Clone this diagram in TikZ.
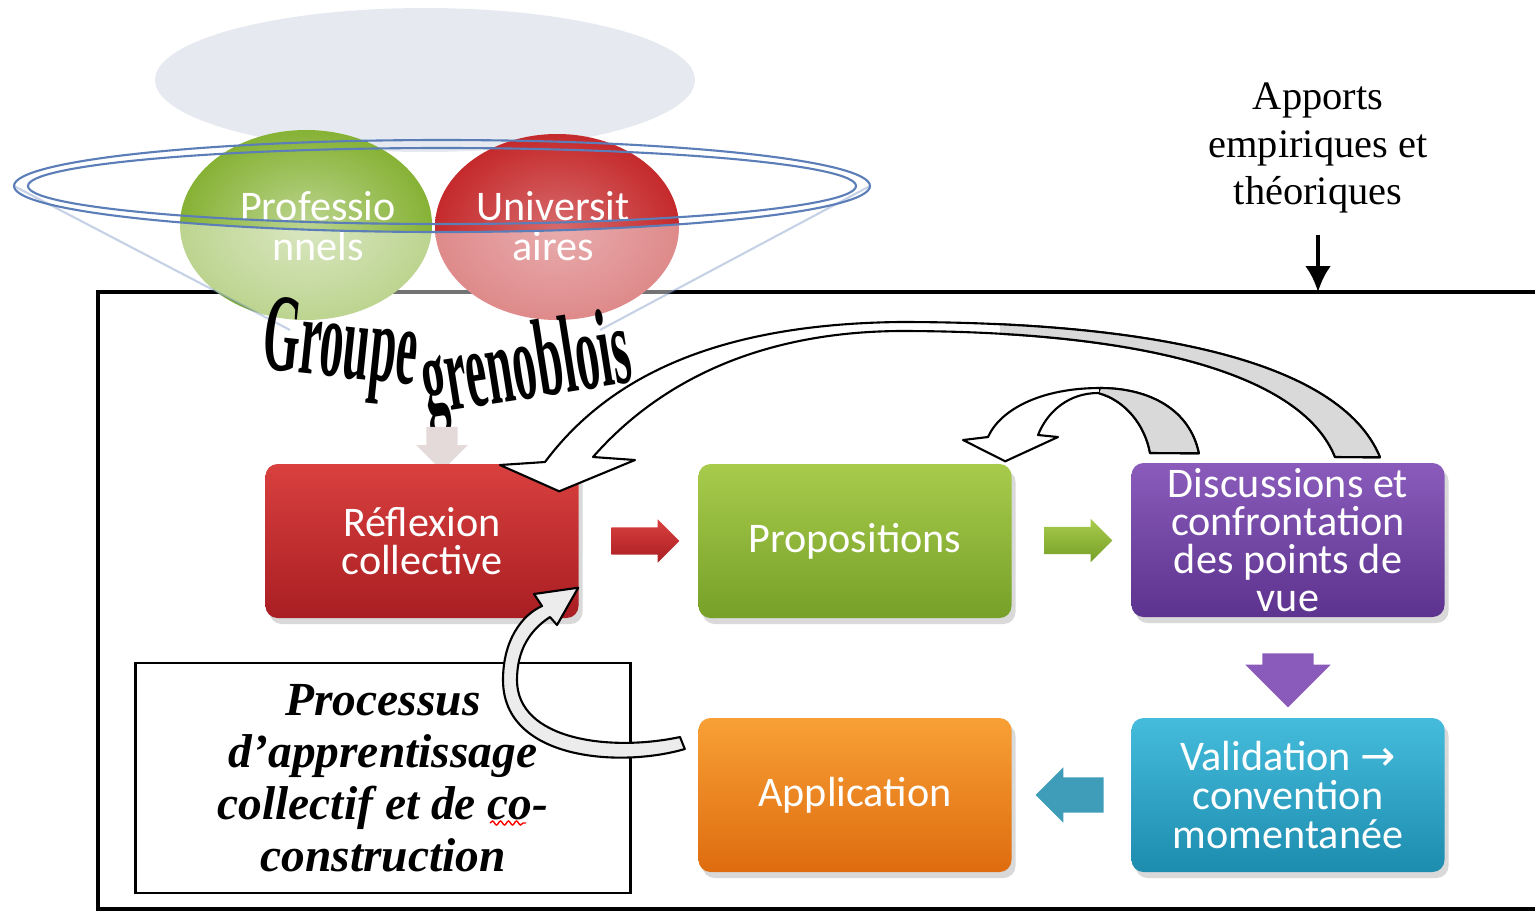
\documentclass[tikz,border=0pt]{standalone}
\usepackage{fontspec}
\usepackage{graphicx}
\setmainfont{Liberation Serif}
\newfontfamily\calib{Carlito}
\newfontfamily\dejavu{DejaVu Sans}
\usetikzlibrary{calc, shapes.arrows, shadows, arrows.meta, decorations.pathmorphing}

\definecolor{glassgray}{HTML}{E6EAF0}
\definecolor{funnelblue}{HTML}{5B7DB8}
\definecolor{proGreen}{HTML}{86B235}
\definecolor{uniRed}{HTML}{C52A2C}
\definecolor{reflTop}{HTML}{D9403E}
\definecolor{reflBot}{HTML}{A91E23}
\definecolor{propTop}{HTML}{A8CB4C}
\definecolor{propBot}{HTML}{76A028}
\definecolor{discTop}{HTML}{8A5BBB}
\definecolor{discBot}{HTML}{5C338E}
\definecolor{validTop}{HTML}{45BCDC}
\definecolor{validBot}{HTML}{1D8CAE}
\definecolor{applTop}{HTML}{F8A036}
\definecolor{applBot}{HTML}{DE6C0E}

\tikzset{
  procbox/.style={rounded corners=1.2mm, minimum width=31.3mm, minimum height=15.4mm,
    inner sep=0pt, align=center, text=white,
    font=\calib\fontsize{12}{11}\selectfont,
    drop shadow={opacity=0.3, shadow xshift=0.4mm, shadow yshift=-0.6mm}},
  blockarrow/.style={single arrow, minimum height=6.8mm, inner xsep=0pt, inner ysep=1.3mm,
    single arrow head extend=0.8mm},
  downarrow/.style={single arrow, shape border rotate=270, inner ysep=0pt},
  bandarrow/.style={draw=black, line width=0.6pt, fill=white, line join=round},
  funnel/.style={draw=funnelblue, line width=0.6pt},
  circtext/.style={align=center, text=white, font=\calib\fontsize{12}{11.5}\selectfont},
  wordart/.style={font=\fontsize{30}{30}\selectfont\bfseries},
}

\begin{document}
\begin{tikzpicture}[x=0.1mm, y=-0.1mm]
\useasboundingbox (0,0) rectangle (1535,914);
\clip (0,0) rectangle (1535,914);

% glass behind the funnel
\fill[glassgray] (425,80) ellipse [x radius=270, y radius=72];

% frame
\draw[line width=1.2pt] (98,292) rectangle (1600,909);
\coordinate (frametop) at (1316,292);

% the two partners
\shade[inner color=proGreen!55!white, outer color=proGreen] (306,225) ellipse [x radius=126, y radius=95];
\shade[inner color=uniRed!70!white, outer color=uniRed] (557,227) ellipse [x radius=122, y radius=93];
\node[circtext] (pro) at (318,226) {Professio\\nnels};
\node[circtext] (uni) at (553,226) {Universit\\aires};

% funnel
\fill[white, opacity=0.45] (14,186) arc [start angle=180, end angle=0, x radius=428, y radius=46]
  -- (600,330) -- (290,330) -- cycle;
\draw[funnel] (442,186) ellipse [x radius=428, y radius=46];
\draw[funnel] (442,186) ellipse [x radius=414, y radius=38];
\draw[funnel, opacity=0.35] (14,186) -- (290,330) (870,186) -- (600,330);

\node[wordart, rotate=-6] (grp1) at (340,352) {\scalebox{0.45}[1.05]{Groupe}};
\node[wordart, rotate=9] (grp2) at (527,372) {\scalebox{0.45}[1.05]{grenoblois}};
\node[downarrow, fill=red!15!gray!25, minimum height=4.4mm, inner xsep=1.5mm,
  single arrow head extend=1mm] (down0) at (442,441) {};

% steps
\node[procbox, top color=reflTop, bottom color=reflBot] (refl) at (422,541) {Réflexion\\collective};
\node[procbox, top color=propTop, bottom color=propBot] (prop) at (855,541) {Propositions};
\node[procbox, top color=discTop, bottom color=discBot, font=\calib\fontsize{12}{10.8}\selectfont]
  (disc) at (1288,540) {Discussions et\\confrontation\\des points de\\vue};
\node[procbox, top color=validTop, bottom color=validBot] (valid) at (1288,795)
  {Validation {\dejavu →}\\convention\\momentanée};
\node[procbox, top color=applTop, bottom color=applBot] (appl) at (855,795) {Application};

\node[blockarrow, top color=reflTop, bottom color=reflBot] (a1) at ($(refl.east)!0.5!(prop.west)$) {};
\node[blockarrow, top color=propTop, bottom color=propBot] (a2) at ($(prop.east)!0.5!(disc.west)$) {};
\node[downarrow, fill=discTop, minimum height=5.4mm, inner xsep=2.5mm,
  single arrow head extend=1.7mm] (a3) at ($(disc.south)!0.5!(valid.north)$) {};
\node[blockarrow, shape border rotate=180, fill=validBot!85!white, inner ysep=1.7mm,
  single arrow head extend=1mm, xshift=0.7mm] (a4) at ($(valid.west)!0.5!(appl.east)$) {};

% process text
\node[draw, line width=0.7pt, fill=white, minimum width=49.5mm, minimum height=23mm, align=center,
  font=\fontsize{13.5}{14.8}\selectfont\bfseries\itshape] (proc) at (383,778)
  {Processus\\d’apprentissage\\collectif et de co-\\construction};
\draw[red, line width=0.4pt, decorate, decoration={snake, amplitude=0.2mm, segment length=0.8mm}]
  (490,823) -- (526,823);

% inputs
\node[align=center, font=\fontsize{11.5}{13.4}\selectfont] (apports) at (1318,148)
  {Apports\\empiriques et\\théoriques};
\draw[line width=1.3pt, -{Latex[length=2.6mm, width=2.6mm]}] ([yshift=-1mm]apports.south)
  -- (apports.south |- frametop);

% feedback loops
\coordinate (big tail) at ($(disc.north)+(92,-5)$);
\coordinate (big tip) at ($(refl.north east)+(-20,28)$);
\path[bandarrow] (big tail) .. controls (1340,360) and (1150,322) .. (900,322)
  .. controls (720,324) and (610,375) .. (545,462)
  -- (500,465) -- (big tip) -- (635,460) -- (593,457)
  .. controls (650,392) and (745,332) .. (900,331)
  .. controls (1130,331) and (1300,370) .. (1335,457) -- cycle;
\begin{scope}
  \clip (1000,300) rectangle (1450,470);
  \path[bandarrow, fill=gray!30] (big tail) .. controls (1340,360) and (1150,322) .. (900,322)
    -- (900,331) .. controls (1130,331) and (1300,370) .. (1335,457) -- cycle;
\end{scope}

\coordinate (small tail) at ($(disc.north west)+(68,-9)$);
\coordinate (small tip) at ($(prop.north east)+(-7,-2)$);
\path[bandarrow] (small tail) .. controls (1190,410) and (1150,388) .. (1100,388)
  .. controls (1040,388) and (1000,410) .. (988,437)
  -- (963,440) -- (small tip) -- (1058,437) -- (1038,435)
  .. controls (1048,410) and (1070,393) .. (1098,393)
  .. controls (1125,400) and (1145,425) .. (1150,453) -- cycle;
\begin{scope}
  \clip (1099,380) rectangle (1210,460);
  \path[bandarrow, fill=gray!30] (small tail) .. controls (1190,410) and (1150,388) .. (1100,388)
    -- (1098,393) .. controls (1125,400) and (1145,425) .. (1150,453) -- cycle;
\end{scope}

\coordinate (loop tail) at ($(appl.west)+(-13,-46)$);
\coordinate (loop tip) at ($(refl.south east)+(-1,-31)$);
\path[bandarrow, fill=gray!15] (loop tail) .. controls (620,768) and (503,760) .. (503,680)
  .. controls (503,640) and (522,615) .. (542,606)
  -- (534,594) -- (loop tip) -- (557,625) -- (550,617)
  .. controls (530,630) and (517,650) .. (517,680)
  .. controls (517,740) and (610,752) .. (680,737) -- cycle;
\end{tikzpicture}
\end{document}
